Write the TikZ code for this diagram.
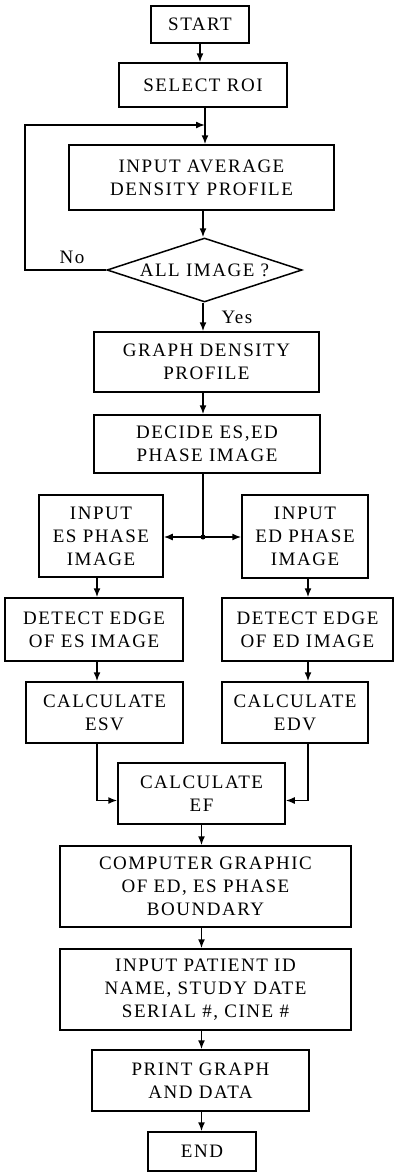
\documentclass[tikz,border=0pt]{standalone}
\usepackage{fontspec}
\setmainfont{Liberation Serif}[LetterSpace=8]
\usetikzlibrary{shapes.geometric,arrows.meta}
\begin{document}
\begin{tikzpicture}[x=1pt,y=-1pt,
    box/.style={draw,line width=1.5pt,inner sep=0pt,align=center,font=\fontsize{19}{23}\selectfont},
    decision/.style={draw,diamond,aspect=3,line width=1.5pt,inner sep=0pt,font=\fontsize{19}{23}\selectfont},
    arr/.style={line width=1.5pt,-{Latex[length=9pt,width=7pt]}},
    line/.style={line width=1.5pt}]
    \useasboundingbox (0,0) rectangle (395,1173);

    % Einlesen der Profile
    \node[box,minimum width=98pt,minimum height=37pt] (start) at (200,24.5) {START};
    \node[box,minimum width=168pt,minimum height=44pt] (roi) at (203,85) {SELECT ROI};
    \node[box,minimum width=265pt,minimum height=65pt] (avg) at (201.5,177.5) {INPUT AVERAGE\\DENSITY PROFILE};
    \node[decision,minimum width=195pt,minimum height=64pt] (allimg) at (204.5,270) {ALL IMAGE ?};
    \node[box,minimum width=225pt,minimum height=60pt] (graph) at (206.5,362) {GRAPH DENSITY\\PROFILE};
    \node[box,minimum width=226pt,minimum height=58pt] (decide) at (207,444) {DECIDE ES,ED\\PHASE IMAGE};

    % ES und ED Zweig
    \node[box,minimum width=124pt,minimum height=82pt] (inES) at (101,536) {INPUT\\ES PHASE\\IMAGE};
    \node[box,minimum width=126pt,minimum height=83pt] (inED) at (305,536.5) {INPUT\\ED PHASE\\IMAGE};
    \node[box,minimum width=178pt,minimum height=63pt] (detES) at (94,629.5) {DETECT EDGE\\OF ES IMAGE};
    \node[box,minimum width=171pt,minimum height=63pt] (detED) at (307.5,629.5) {DETECT EDGE\\OF ED IMAGE};
    \node[box,minimum width=157pt,minimum height=61pt] (esv) at (104.5,712.5) {CALCULATE\\ESV};
    \node[box,minimum width=146pt,minimum height=61pt] (edv) at (295,712.5) {CALCULATE\\EDV};

    % Ausgabe
    \node[box,minimum width=167pt,minimum height=61pt] (ef) at (201.5,793.5) {CALCULATE\\EF};
    \node[box,minimum width=291pt,minimum height=81pt] (cgraph) at (205.5,886.5) {COMPUTER GRAPHIC\\OF ED, ES PHASE\\BOUNDARY};
    \node[box,minimum width=291pt,minimum height=81pt] (patient) at (205.5,989.5) {INPUT PATIENT ID\\NAME, STUDY DATE\\SERIAL \#, CINE \#};
    \node[box,minimum width=217pt,minimum height=61pt] (print) at (200.5,1080.5) {PRINT GRAPH\\AND DATA};
    \node[box,minimum width=108pt,minimum height=39pt] (end) at (202,1151.5) {END};

    \node[font=\fontsize{19}{23}\selectfont] (no) at (72,257) {No};
    \node[font=\fontsize{19}{23}\selectfont] (yes) at (237,317) {Yes};

    % Hilfspunkte
    \coordinate (merge) at (205,125);
    \coordinate (loopx) at (25,0);
    \coordinate (split) at (203,537);
    \coordinate (colES) at (97,0);
    \coordinate (colED) at (308,0);

    % Verbindungen
    \draw[arr] (start.south) -- (start.south |- roi.north);
    \draw[line] (roi.south -| merge) -- (merge);
    \draw[arr] (merge) -- (merge |- avg.north);
    \draw[arr] (avg.south -| split) -- (split |- allimg.north);
    \draw[arr] (allimg.west) -- (allimg.west -| loopx) |- (merge);
    \draw[arr] (allimg.south -| split) -- (split |- graph.north);
    \draw[arr] (graph.south -| split) -- (split |- decide.north);
    \draw[line] (decide.south -| split) -- (split);
    \fill (split) circle (2.5pt);
    \draw[arr] (split) -- (split -| inES.east);
    \draw[arr] (split) -- (split -| inED.west);
    \draw[arr] (inES.south -| colES) -- (colES |- detES.north);
    \draw[arr] (inED.south -| colED) -- (colED |- detED.north);
    \draw[arr] (detES.south -| colES) -- (colES |- esv.north);
    \draw[arr] (detED.south -| colED) -- (colED |- edv.north);
    \draw[arr] (esv.south -| colES) |- ([yshift=-7pt]ef.west);
    \draw[arr] (edv.south -| colED) |- ([yshift=-7pt]ef.east);
    \draw[arr] (ef.south) -- (ef.south |- cgraph.north);
    \draw[arr] (cgraph.south -| ef.south) -- (ef.south |- patient.north);
    \draw[arr] (patient.south -| ef.south) -- (ef.south |- print.north);
    \draw[arr] (print.south -| ef.south) -- (ef.south |- end.north);
\end{tikzpicture}
\end{document}
